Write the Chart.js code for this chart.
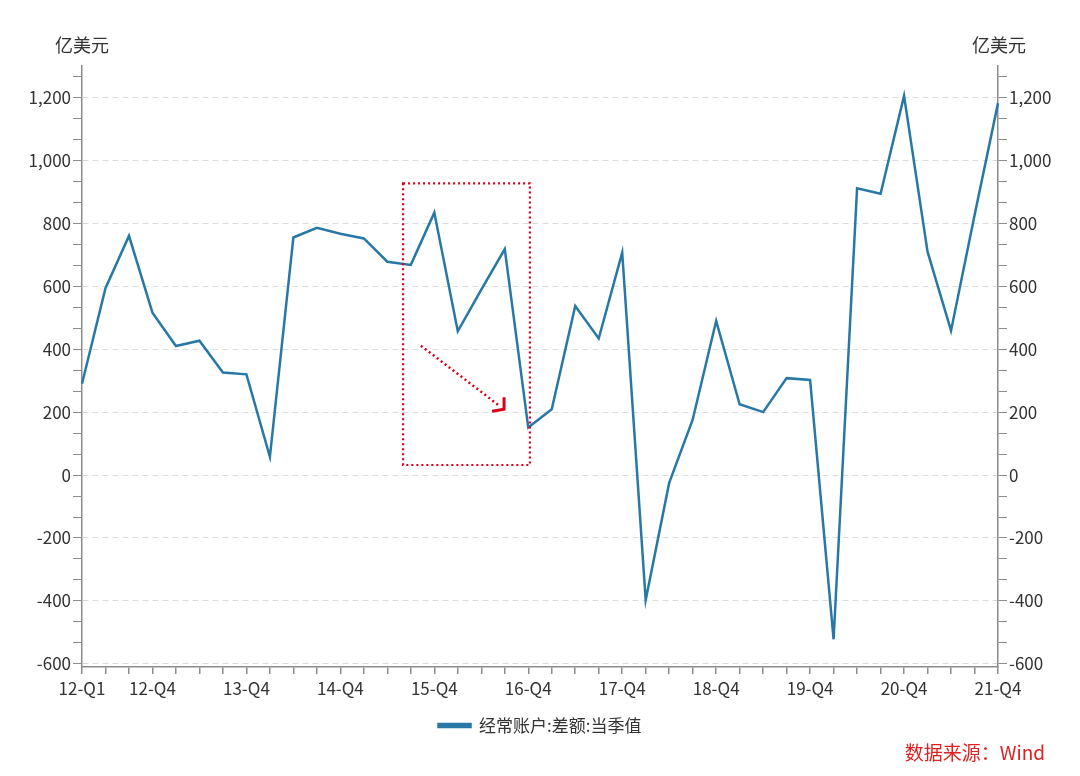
<!DOCTYPE html>
<html lang="zh">
<head>
  <meta charset="UTF-8">
  <title>经常账户差额</title>
  <script src="https://cdn.jsdelivr.net/npm/chart.js"></script>
  <style>
    html, body { margin: 0; padding: 0; background: #fff; }
    #wrap { width: 1080px; height: 776px; }
  </style>
</head>
<body>
  <div id="wrap"><canvas id="cab"></canvas></div>

  <script>
    // quarters 12-Q1 .. 21-Q4
    const years = ["12", "13", "14", "15", "16", "17", "18", "19", "20", "21"];
    const quarters = [];
    years.forEach(y => ["Q1", "Q2", "Q3", "Q4"].forEach(q => quarters.push(y + "-" + q)));

    // 亿美元
    const balance = [
      290, 594, 760, 516, 410, 427, 326, 320, 58, 755,
      786, 767, 752, 678, 668, 834, 457, 589, 718, 151,
      209, 537, 434, 707, -397, -25, 176, 490, 225, 200,
      308, 302, -522, 911, 894, 1205, 710, 459, 825, 1182
    ];

    const seriesName = "经常账户:差额:当季值";
    const unitLabel = "亿美元";
    const sourceLabel = "数据来源：Wind";

    // highlighted range (x in quarter index, y in value)
    const boxX = [13.67, 19.07];
    const boxY = [32, 927];
    const arrowFrom = [14.43, 411];
    const arrowTo = [17.97, 209];

    const yMin = -610, yMax = 1300;
    const yTicks = [];
    for (let k = -9; k * 200 / 3 <= 1280; k++) yTicks.push(k * 200 / 3);

    const FONT = "'Noto Sans CJK SC', 'Noto Sans', sans-serif";
    const lineColor = "#2878a6";
    const axisColor = "#8c8c8c";
    const red = "#d9001b";

    const isMajor = v => Math.abs(Math.round(v) % 200) === 0 && Math.abs(v - Math.round(v)) < 1e-6;

    function yAxis(pos) {
      return {
        type: "linear",
        position: pos,
        min: yMin,
        max: yMax,
        afterBuildTicks: s => { s.ticks = yTicks.map(v => ({ value: v })); },
        afterFit: s => { s.width = 82; },
        grid: {
          drawOnChartArea: pos === "left",
          color: c => (c.tick && isMajor(c.tick.value)) ? "#dcdcdc" : "rgba(0,0,0,0)",
          tickColor: axisColor,
          tickLength: 9,
          lineWidth: 1
        },
        border: { display: true, color: axisColor, width: 1.5, dash: [6, 4] },
        ticks: {
          autoSkip: false,
          padding: 2,
          color: "#333",
          font: { family: FONT, size: 17 },
          callback: v => isMajor(v) ? Math.round(v).toLocaleString("en-US") : ""
        }
      };
    }

    const extras = {
      id: "extras",
      afterDatasetsDraw(chart) {
        const { ctx, scales: { x, y } } = chart;
        ctx.save();
        // dotted box
        ctx.strokeStyle = red;
        ctx.lineWidth = 2.2;
        ctx.setLineDash([2, 3]);
        const l = x.getPixelForValue(boxX[0]), r = x.getPixelForValue(boxX[1]);
        const t = y.getPixelForValue(boxY[1]), b = y.getPixelForValue(boxY[0]);
        ctx.strokeRect(l, t, r - l, b - t);
        // dotted arrow
        const ax = x.getPixelForValue(arrowFrom[0]), ay = y.getPixelForValue(arrowFrom[1]);
        const bx = x.getPixelForValue(arrowTo[0]), by = y.getPixelForValue(arrowTo[1]);
        ctx.lineWidth = 2.5;
        ctx.beginPath();
        ctx.moveTo(ax, ay);
        ctx.lineTo(bx - 4, by - 3);
        ctx.stroke();
        ctx.setLineDash([]);
        ctx.lineWidth = 3;
        ctx.beginPath();
        ctx.moveTo(bx, by - 12);
        ctx.lineTo(bx, by);
        ctx.lineTo(bx - 12, by + 2);
        ctx.stroke();
        ctx.restore();
      },
      afterDraw(chart) {
        const { ctx } = chart;
        ctx.save();
        ctx.font = "18px " + FONT;
        ctx.fillStyle = "#333";
        ctx.textBaseline = "middle";
        ctx.textAlign = "left";
        ctx.fillText(unitLabel, 55, 45);
        ctx.fillText(unitLabel, 972, 45);
        ctx.font = "19px " + FONT;
        ctx.fillStyle = "#e02020";
        ctx.textAlign = "right";
        ctx.fillText(sourceLabel, 1045, 753);
        ctx.restore();
      }
    };

    new Chart(document.getElementById("cab"), {
      type: "line",
      data: {
        labels: quarters,
        datasets: [{
          label: seriesName,
          data: balance,
          borderColor: lineColor,
          backgroundColor: lineColor,
          borderWidth: 2.5,
          pointRadius: 0,
          tension: 0,
          yAxisID: "y"
        }]
      },
      options: {
        responsive: true,
        maintainAspectRatio: false,
        animation: false,
        layout: { padding: { top: 66, left: 0, right: 0, bottom: 32 } },
        scales: {
          x: {
            type: "category",
            offset: false,
            afterFit: s => { s.height = 40; },
            grid: {
              drawOnChartArea: false,
              tickColor: axisColor,
              tickLength: 7,
              lineWidth: 1.5
            },
            border: { display: true, color: axisColor, width: 1.5 },
            ticks: {
              autoSkip: false,
              maxRotation: 0,
              padding: 4,
              color: "#333",
              font: { family: FONT, size: 17 },
              callback: (v, i) => (i === 0 || (i + 1) % 4 === 0) ? quarters[i] : ""
            }
          },
          y: yAxis("left"),
          y2: yAxis("right")
        },
        plugins: {
          legend: {
            position: "bottom",
            labels: {
              boxWidth: 32,
              boxHeight: 3,
              padding: 10,
              color: "#333",
              font: { family: FONT, size: 17 }
            }
          },
          tooltip: { enabled: false }
        }
      },
      plugins: [extras]
    });
  </script>
</body>
</html>
